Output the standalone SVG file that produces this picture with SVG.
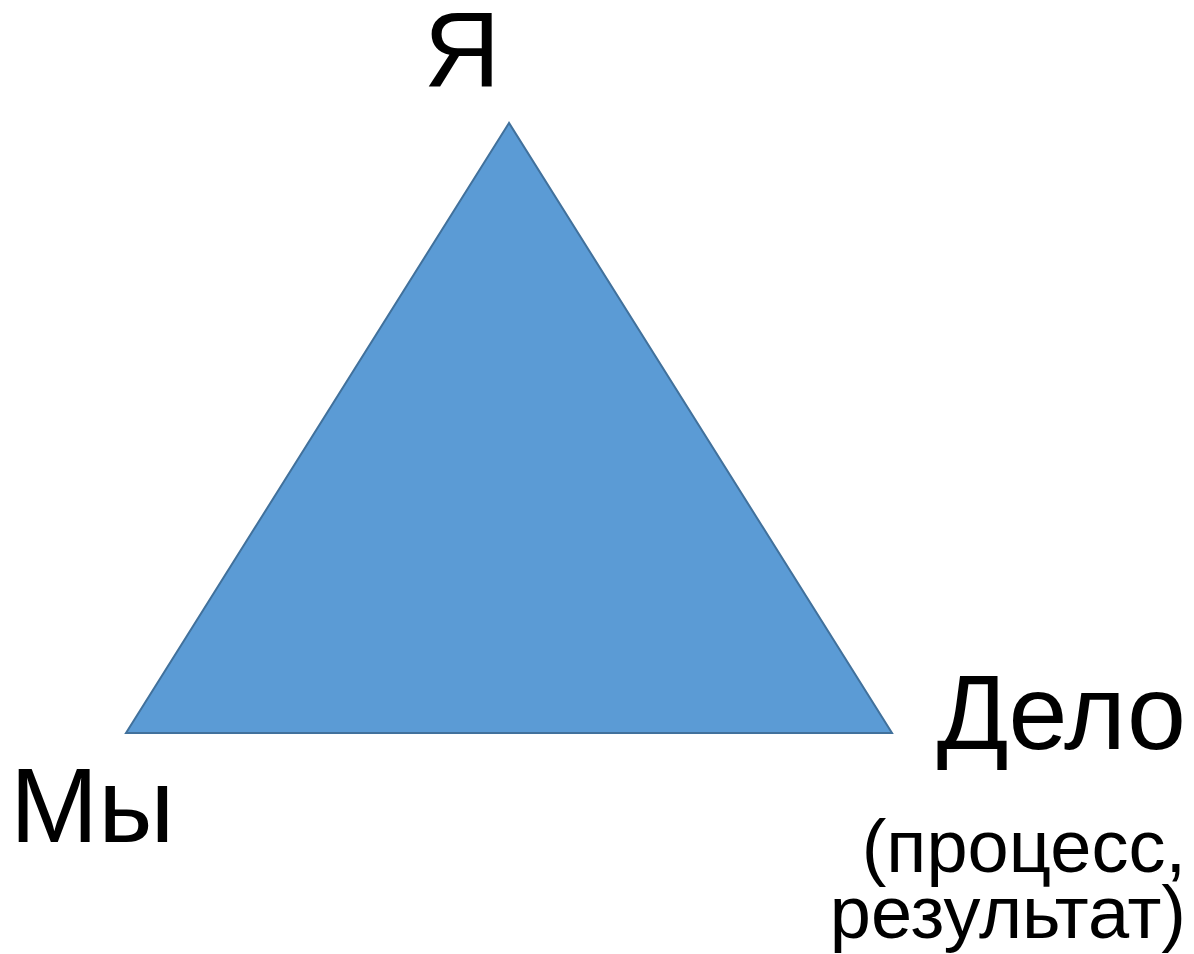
<svg xmlns="http://www.w3.org/2000/svg" width="1194" height="954" viewBox="0 0 1194 954">
<style>
text{font-family:"Liberation Sans",Arial,sans-serif;fill:#000}
.big{font-size:106px}
.small{font-size:74px}
</style>
<rect width="1194" height="954" fill="#fff"/>
<g id="triangle">
<polygon points="509,123 126,733 892,733" fill="#5B9BD5" stroke="#41719C" stroke-width="2" stroke-linejoin="miter"/>
</g>
<g id="label-ya"><text class="big" x="462" y="86" text-anchor="middle">Я</text></g>
<g id="label-my"><text class="big" x="10" y="842">Мы</text></g>
<g id="label-delo">
<text class="big" x="1186" y="749" text-anchor="end">Дело</text>
<text class="small" x="1186" y="872" text-anchor="end">(процесс,</text>
<text class="small" x="1186" y="938" text-anchor="end">результат)</text>
</g>
</svg>
